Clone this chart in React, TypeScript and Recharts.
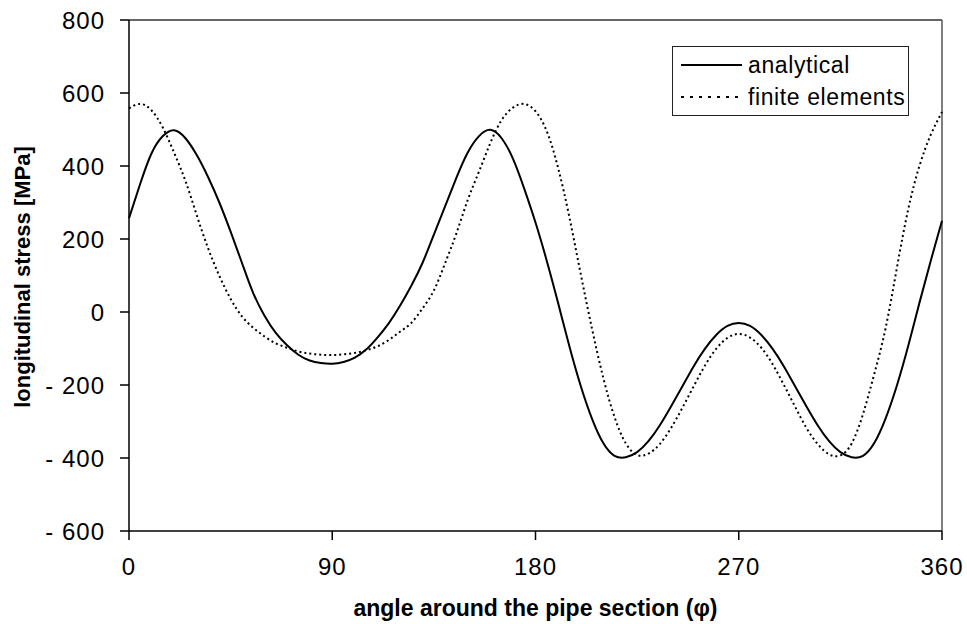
import React from 'react';
import { LineChart, Line, XAxis, YAxis, ReferenceLine, Legend, Label } from 'recharts';

const angles = [
  0, 5, 10, 15, 20, 25, 30, 35, 40, 45, 50, 55, 60, 65, 70, 75, 80, 85, 90,
  95, 100, 105, 110, 115, 120, 125, 130, 135, 140, 145, 150, 155, 160, 165, 170, 175, 180,
  185, 190, 195, 200, 205, 210, 215, 220, 225, 230, 235, 240, 245, 250, 255, 260, 265, 270,
  275, 280, 285, 290, 295, 300, 305, 310, 315, 320, 325, 330, 335, 340, 345, 350, 355, 360,
];

const analytical = [
  257, 352, 435, 482, 498, 476, 430, 370, 300, 220, 135, 52, -10, -57, -91, -117, -133, -140, -142,
  -137, -125, -103, -70, -31, 17, 72, 135, 212, 290, 368, 437, 482, 499, 476, 420, 338, 245,
  140, 25, -94, -202, -292, -359, -394, -398, -384, -354, -311, -259, -204, -149, -101, -63, -38, -30,
  -38, -63, -101, -149, -204, -259, -311, -354, -384, -398, -394, -359, -292, -202, -94, 25, 140, 250,
];

const finiteElements = [
  558, 570, 552, 505, 436, 359, 265, 175, 99, 36, -12, -43, -67, -86, -98, -108, -114, -117, -118,
  -116, -112, -105, -94, -77, -54, -30, 10, 59, 134, 216, 307, 385, 463, 526, 560, 570, 550,
  495, 395, 260, 105, -45, -180, -288, -360, -392, -388, -362, -318, -263, -204, -147, -101, -71, -60,
  -70, -98, -143, -200, -260, -318, -362, -390, -393, -360, -280, -170, -45, 120, 280, 400, 485, 548,
];

const xTicks = [0, 90, 180, 270, 360];
const yTicks = [-600, -400, -200, 0, 200, 400, 600, 800];

const seriesNames = ['analytical', 'finite elements'];

const data = angles.map((a, i) => ({ angle: a, analytical: analytical[i], fem: finiteElements[i] }));

const font = '"Liberation Sans", Arial, sans-serif';

const yFmt = (v: number) => (v < 0 ? `- ${Math.abs(v)}` : `${v}`);

function LegendBox() {
  return (
    <div
      style={{
        width: 237,
        height: 70,
        border: '1px solid #222',
        background: '#fff',
        fontFamily: font,
        fontSize: 23,
        letterSpacing: 0.6,
        color: '#000',
        boxSizing: 'border-box',
        paddingTop: 2,
      }}
    >
      {seriesNames.map((name, i) => (
        <div key={name} style={{ display: 'flex', alignItems: 'center', height: 32 }}>
          <svg width={70} height={10} style={{ marginLeft: 8 }}>
            <line
              x1={0}
              y1={5}
              x2={61}
              y2={5}
              stroke="#000"
              strokeWidth={2}
              strokeDasharray={i === 0 ? undefined : '3 6'}
            />
          </svg>
          <span style={{ marginLeft: -3 }}>{name}</span>
        </div>
      ))}
    </div>
  );
}

export default function App() {
  return (
    <div style={{ position: 'absolute', left: 0, top: 0, width: 967, height: 624, background: '#fff' }}>
      <LineChart width={967} height={624} data={data} margin={{ top: 20, right: 25, bottom: 0, left: 0 }}>
        <XAxis
          dataKey="angle"
          type="number"
          domain={[0, 360]}
          ticks={xTicks}
          height={93}
          tickSize={9}
          tickMargin={18}
          axisLine={{ stroke: '#000', strokeWidth: 1.5 }}
          tickLine={{ stroke: '#000', strokeWidth: 1.5 }}
          tick={{ fill: '#000', fontSize: 24, fontFamily: font, letterSpacing: 1 }}
        >
          <Label
            content={(props: any) => {
              const vb = props.viewBox || { x: 129, y: 531, width: 813 };
              return (
                <text
                  x={vb.x + vb.width / 2}
                  y={616}
                  textAnchor="middle"
                  fontFamily={font}
                  fontSize={23}
                  fontWeight="bold"
                  fill="#000"
                >
                  angle around the pipe section (φ)
                </text>
              );
            }}
          />
        </XAxis>
        <YAxis
          type="number"
          domain={[-600, 800]}
          ticks={yTicks}
          width={129}
          tickSize={9}
          tickMargin={15}
          tickFormatter={yFmt}
          axisLine={{ stroke: '#000', strokeWidth: 1.5 }}
          tickLine={{ stroke: '#000', strokeWidth: 1.5 }}
          tick={{ fill: '#000', fontSize: 24, fontFamily: font, letterSpacing: 1 }}
        >
          <Label
            content={() => (
              <text
                x={22}
                y={277}
                transform="rotate(-90, 22, 277)"
                textAnchor="middle"
                dominantBaseline="central"
                fontFamily={font}
                fontSize={22}
                fontWeight="bold"
                fill="#000"
              >
                longitudinal stress [MPa]
              </text>
            )}
          />
        </YAxis>
        <ReferenceLine y={800} stroke="#333" strokeWidth={1.5} />
        <ReferenceLine x={360} stroke="#555" strokeWidth={1.5} />
        <Legend
          layout="vertical"
          align="center"
          verticalAlign="middle"
          content={() => <LegendBox />}
          wrapperStyle={{ left: 672, top: 46, width: 237, height: 70 }}
        />
        <Line
          type="natural"
          dataKey="analytical"
          stroke="#000"
          strokeWidth={2}
          dot={false}
          isAnimationActive={false}
        />
        <Line
          type="natural"
          dataKey="fem"
          stroke="#000"
          strokeWidth={2}
          strokeDasharray="2 3"
          dot={false}
          isAnimationActive={false}
        />
      </LineChart>
    </div>
  );
}
